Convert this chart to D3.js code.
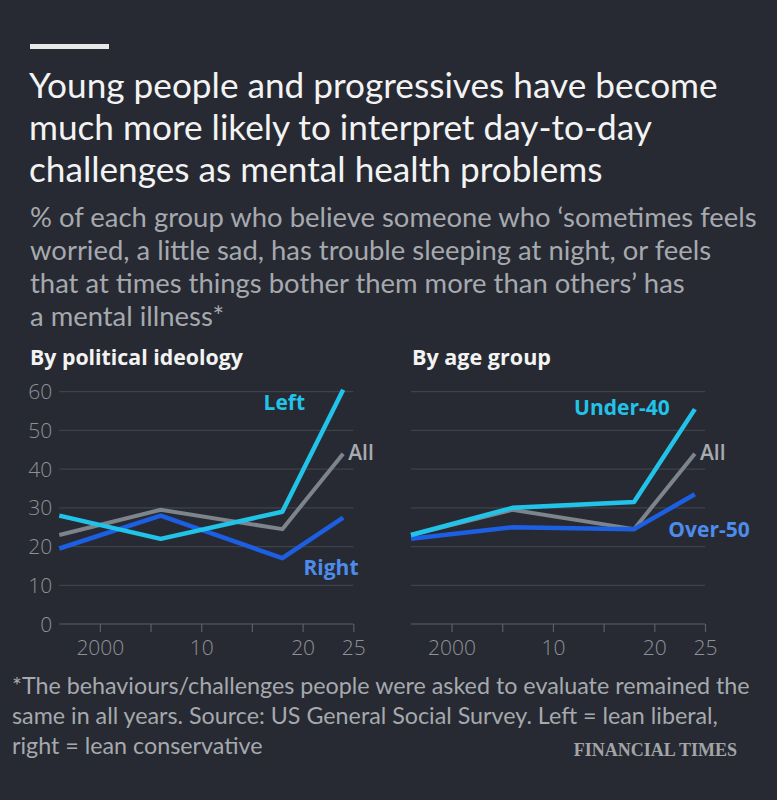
<!DOCTYPE html>
<html><head><meta charset="utf-8">
<script src="https://cdn.jsdelivr.net/npm/d3@7"></script>
<style>
html,body{margin:0;padding:0;background:#272a32;}
svg{display:block;}
</style></head><body>
<svg id="chart" width="777" height="800"></svg>
<script>
const years = [1996, 2006, 2018, 2024];
const ideologyLeft = [28, 22, 29, 60.5];
const ideologyAll = [23, 29.5, 24.5, 44];
const ideologyRight = [19.5, 28, 17, 27.5];
const ageUnder40 = [23, 30, 31.5, 55.5];
const ageAll = [23, 29.5, 24.5, 44];
const ageOver50 = [22, 25, 24.5, 33.5];
const yTicks = [0, 10, 20, 30, 40, 50, 60];
const xTicks = [2000, 2005, 2010, 2015, 2020, 2025];
const xTickLabels = {2000: "2000", 2010: "10", 2020: "20", 2025: "25"};

const titleLines = ["Young people and progressives have become","much more likely to interpret day-to-day","challenges as mental health problems"];
const subtitleLines = ["% of each group who believe someone who \u2018sometimes feels","worried, a little sad, has trouble sleeping at night, or feels","that at times things bother them more than others\u2019 has","a mental illness*"];
const footLines = ["*The behaviours/challenges people were asked to evaluate remained the","same in all years. Source: US General Social Survey. Left = lean liberal,","right = lean conservative"];

const C = {bg:"#272a32", title:"#f3f3f3", sub:"#a6a9ae", grid:"#3e424a", axis:"#5b5f67", tick:"#8e9198",
  cyan:"#22c3e9", blue:"#1d5fe2", gray:"#7d848c", blueLbl:"#4d8cec", grayLbl:"#a8abb0"};
const FONT = "Lato, 'Noto Sans', sans-serif";
const FONT2 = "'Open Sans', 'Noto Sans', sans-serif";

const svg = d3.select("#chart");
svg.append("rect").attr("width",777).attr("height",800).attr("fill",C.bg);
svg.append("rect").attr("x",30).attr("y",44).attr("width",79).attr("height",5).attr("fill","#e8e8e8");

function block(lines, x, y0, dy, size, color, weight, targetW, font){
  const g = svg.append("g");
  const t = g.selectAll("text").data(lines).join("text")
    .attr("x",x).attr("y",(d,i)=>y0+i*dy)
    .attr("font-family",font||FONT).attr("font-size",size).attr("font-weight",weight||400)
    .attr("fill",color).text(d=>d);
  if(targetW){
    const w = t.nodes()[0].getComputedTextLength();
    t.attr("font-size", size*targetW/w);
  }
  return g;
}
block(titleLines, 29, 98, 42, 32, C.title, 400, 689);
block(subtitleLines, 30, 227, 33, 24, C.sub, 400, 727);
block(footLines, 12, 694, 30, 20, C.sub, 400, 738);

block(["By political ideology"], 30, 365, 0, 21, "#f3f3f3", 700, 213, FONT2);
block(["By age group"], 412, 365, 0, 21, "#f3f3f3", 700, 139, FONT2);

svg.append("text").attr("x",737).attr("y",756).attr("text-anchor","end")
  .attr("font-family","'Liberation Serif', serif").attr("font-weight",700)
  .attr("font-size",18).attr("fill","#a3a4a8").text("FINANCIAL TIMES");

const y = d3.scaleLinear().domain([0,60]).range([624,391.7]);

function panel(x0, x1, series, labels, showY){
  const x = d3.scaleLinear().domain([1996,2025]).range([x0,x1]);
  const g = svg.append("g");
  g.selectAll("line.grid").data(yTicks).join("line")
    .attr("x1",x0).attr("x2",x1).attr("y1",d=>y(d)).attr("y2",d=>y(d))
    .attr("stroke",d=>d===0?C.axis:C.grid).attr("stroke-width",1.2);
  const xa = g.append("g").attr("transform",`translate(0,${y(0)})`)
    .call(d3.axisBottom(x).tickValues(xTicks).tickSize(8).tickSizeOuter(0)
      .tickFormat(d=>xTickLabels[d]||""));
  xa.select(".domain").remove();
  xa.selectAll(".tick line").attr("stroke",C.axis).attr("stroke-width",1.2);
  xa.selectAll(".tick text").attr("font-family",FONT2).attr("font-weight",300).attr("font-size",21)
    .attr("fill",C.tick).attr("dy","0.95em");
  if(showY){
    g.selectAll("text.yl").data(yTicks).join("text").attr("class","yl")
      .attr("x",x0-7).attr("y",d=>y(d)).attr("dy","0.36em").attr("text-anchor","end")
      .attr("font-family",FONT2).attr("font-weight",300).attr("font-size",21).attr("fill",C.tick).text(d=>d);
  }
  const line = d3.line().x((d,i)=>x(years[i])).y(d=>y(d));
  series.forEach(s=>{
    g.append("path").attr("d",line(s.values)).attr("fill","none")
      .attr("stroke",s.color).attr("stroke-width",s.w).attr("stroke-linejoin","round");
  });
  labels.forEach(l=>{
    g.append("text").attr("x",x(l.year)).attr("y",y(l.val)).attr("dy","0.36em")
      .attr("text-anchor",l.anchor).attr("font-family",FONT2).attr("font-weight",l.weight)
      .attr("font-size",21).attr("fill",l.color).text(l.text);
  });
}

panel(59.3, 353.3, [
  {values: ideologyAll, color: C.gray, w: 4},
  {values: ideologyRight, color: C.blue, w: 4.5},
  {values: ideologyLeft, color: C.cyan, w: 4.5}
],[
  {text:"Left", year:2018.2, val:57.3, anchor:"middle", color:C.cyan, weight:700},
  {text:"All", year:2024.5, val:44.2, anchor:"start", color:C.grayLbl, weight:600},
  {text:"Right", year:2022.8, val:14.7, anchor:"middle", color:C.blueLbl, weight:700}
], true);

panel(411, 705, [
  {values: ageAll, color: C.gray, w: 4},
  {values: ageOver50, color: C.blue, w: 4.5},
  {values: ageUnder40, color: C.cyan, w: 4.5}
],[
  {text:"Under-40", year:2016.8, val:56.0, anchor:"middle", color:C.cyan, weight:700},
  {text:"All", year:2024.5, val:44.2, anchor:"start", color:C.grayLbl, weight:600},
  {text:"Over-50", year:2025.4, val:24.3, anchor:"middle", color:C.blueLbl, weight:700}
], false);
</script>
</body></html>
